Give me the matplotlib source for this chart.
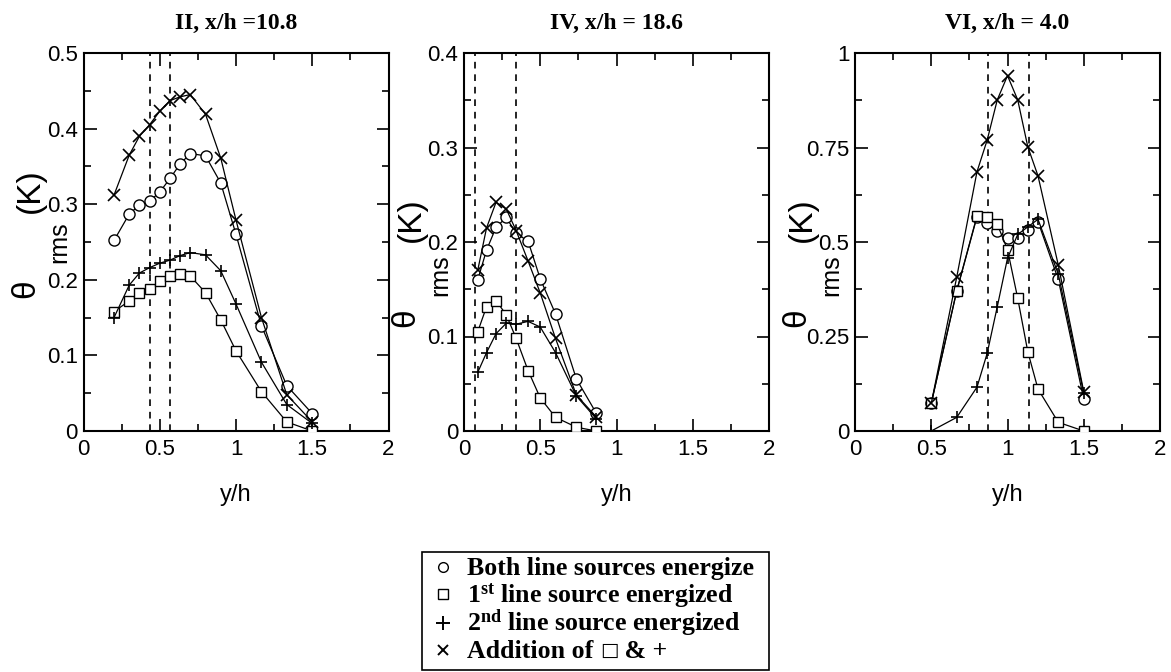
import matplotlib
matplotlib.use("Agg")
import matplotlib.pyplot as plt
from matplotlib.ticker import MultipleLocator, FixedLocator, FixedFormatter
from matplotlib.lines import Line2D
from matplotlib.patches import Rectangle

plt.rcParams['font.family'] = ['Liberation Sans', 'DejaVu Sans']
plt.rcParams['mathtext.fontset'] = 'custom'
plt.rcParams['mathtext.rm'] = 'Liberation Serif:bold'
plt.rcParams['mathtext.bf'] = 'Liberation Serif:bold'
plt.rcParams['mathtext.it'] = 'Liberation Serif:italic:bold'

# ---------------- data ----------------
titles = ["II, x/h =10.8", "IV, x/h = 18.6", "VI, x/h = 4.0"]

y1 = [0.2, 0.3, 0.367, 0.433, 0.5, 0.567, 0.633, 0.7, 0.8, 0.9, 1.0, 1.167, 1.333, 1.5]
both1 = [0.252, 0.287, 0.299, 0.304, 0.316, 0.334, 0.353, 0.367, 0.364, 0.328, 0.26, 0.139, 0.06, 0.023]
first1 = [0.158, 0.172, 0.183, 0.188, 0.198, 0.205, 0.208, 0.205, 0.183, 0.147, 0.106, 0.052, 0.012, 0.0]
second1 = [0.15, 0.193, 0.209, 0.216, 0.222, 0.226, 0.232, 0.236, 0.233, 0.212, 0.168, 0.091, 0.035, 0.01]
add1 = [0.312, 0.365, 0.39, 0.405, 0.423, 0.437, 0.442, 0.445, 0.419, 0.361, 0.279, 0.150, 0.048, 0.012]
dash1 = [0.436, 0.567]

y2 = [0.09, 0.148, 0.21, 0.277, 0.342, 0.42, 0.5, 0.6, 0.737, 0.867]
both2 = [0.16, 0.1915, 0.2155, 0.226, 0.209, 0.201, 0.161, 0.124, 0.055, 0.019]
first2 = [0.105, 0.1316, 0.138, 0.123, 0.098, 0.064, 0.035, 0.0145, 0.004, 0.0]
second2 = [0.062, 0.083, 0.103, 0.114, 0.113, 0.116, 0.110, 0.083, 0.037, 0.013]
add2 = [0.170, 0.215, 0.242, 0.235, 0.212, 0.180, 0.146, 0.098, 0.038, 0.015]
dash2 = [0.072, 0.34]

y3 = [0.5, 0.667, 0.8, 0.867, 0.933, 1.0, 1.067, 1.133, 1.2, 1.333, 1.5]
both3 = [0.073, 0.37, 0.567, 0.551, 0.53, 0.51, 0.51, 0.532, 0.554, 0.401, 0.084]
first3 = [0.073, 0.371, 0.569, 0.565, 0.547, 0.48, 0.351, 0.21, 0.111, 0.023, 0.0]
second3 = [0.0, 0.036, 0.116, 0.206, 0.329, 0.457, 0.52, 0.54, 0.56, 0.415, 0.10]
add3 = [0.073, 0.407, 0.686, 0.77, 0.876, 0.94, 0.876, 0.752, 0.675, 0.439, 0.104]
dash3 = [0.869, 1.139]

ymax = [0.5, 0.4, 1.0]
ytick_major = [[0, 0.1, 0.2, 0.3, 0.4, 0.5], [0, 0.1, 0.2, 0.3, 0.4], [0, 0.25, 0.5, 0.75, 1.0]]
ytick_labels = [["0", "0.1", "0.2", "0.3", "0.4", "0.5"],
                ["0", "0.1", "0.2", "0.3", "0.4"],
                ["0", "0.25", "0.5", "0.75", "1"]]
ytick_minor = [0.05, 0.05, 0.125]
xtick_major = [0, 0.5, 1, 1.5, 2]
xtick_labels = ["0", "0.5", "1", "1.5", "2"]

legend_labels = ["Both line sources energize",
                 r"1$^{\rm st}$ line source energized",
                 r"2$^{\rm nd}$ line source energized",
                 "Addition of "]
legend_tail = ["\u25a1", " & +"]

panels = [
    (y1, both1, first1, second1, add1, dash1),
    (y2, both2, first2, second2, add2, dash2),
    (y3, both3, first3, second3, add3, dash3),
]

# ---------------- figure ----------------
W, H = 1171, 672
fig = plt.figure(figsize=(W / 100, H / 100), dpi=100)
lefts = [83.5, 464, 855]
ax_w = 305
ax_top, ax_bot = 53, 431
# vertical centre (px) of the y-label pieces: theta, rms, (K)
ylab_y = [(289, 242, 191), (318, 275, 220), (318, 275, 220)]


def fx(px):
    return px / W


def fy(py):
    return 1 - py / H


for i, (yy, b, f, s, a, d) in enumerate(panels):
    ax = fig.add_axes([lefts[i] / W, 1 - ax_bot / H, ax_w / W, (ax_bot - ax_top) / H])
    for xv in d:
        ax.axvline(xv, color='black', lw=1.2, ls=(0, (4, 3.5)))
    ax.plot(yy, b, color='black', lw=0.9, marker='o', ms=8, mfc='white', mec='black', mew=1.0, zorder=3)
    ax.plot(yy, f, color='black', lw=0.9, marker='s', ms=7.5, mfc='white', mec='black', mew=1.0, zorder=3)
    ax.plot(yy, s, color='black', lw=0.9, marker='+', ms=9, mec='black', mew=1.2, zorder=4)
    ax.plot(yy, a, color='black', lw=0.9, marker='x', ms=8, mec='black', mew=1.2, zorder=4)
    ax.set_xlim(0, 2)
    ax.set_ylim(0, ymax[i])
    ax.xaxis.set_major_locator(FixedLocator(xtick_major))
    ax.xaxis.set_major_formatter(FixedFormatter(xtick_labels))
    ax.xaxis.set_minor_locator(MultipleLocator(0.25))
    ax.yaxis.set_major_locator(FixedLocator(ytick_major[i]))
    ax.yaxis.set_major_formatter(FixedFormatter(ytick_labels[i]))
    ax.yaxis.set_minor_locator(MultipleLocator(ytick_minor[i]))
    ax.tick_params(which='both', direction='in', top=True, right=True, width=1.2, color='black')
    ax.tick_params(which='major', length=9)
    ax.tick_params(which='minor', length=5)
    ax.tick_params(axis='x', which='major', labelsize=16, pad=6)
    ax.tick_params(axis='y', which='major', labelsize=16, pad=4)
    for sp in ax.spines.values():
        sp.set_linewidth(1.5)
    ax.set_title(titles[i], fontfamily='Liberation Serif', fontweight='bold', fontsize=17, pad=17)
    ax.set_xlabel("y/h", fontsize=17, labelpad=17)
    # y label: theta, subscript rms, (K)
    L = lefts[i]
    ty, ry, ky = ylab_y[i]
    fig.text(fx(L - 58), fy(ty), "\u03b8", rotation=90, ha='center', va='center',
             fontsize=24, family='Liberation Sans')
    fig.text(fx(L - 24), fy(ry), "rms", rotation=90, ha='center', va='center',
             fontsize=18, family='Liberation Sans')
    fig.text(fx(L - 53), fy(ky), "(K)", rotation=90, ha='center', va='center',
             fontsize=24, family='Liberation Sans')

# ---------------- legend (drawn as a box with markers and texts) ----------------
box_l, box_r, box_t, box_b = 422, 769, 552, 670
fig.add_artist(Rectangle((fx(box_l), fy(box_b)), (box_r - box_l) / W, (box_b - box_t) / H,
                         transform=fig.transFigure, fill=False, ec='black', lw=1.2))
baselines = [575, 602, 631, 658]
marker_specs = [
    dict(marker='o', ms=7, mfc='white', mec='black', mew=1.0),
    dict(marker='s', ms=7, mfc='white', mec='black', mew=1.0),
    dict(marker='+', ms=10, mec='black', mew=1.4),
    dict(marker='x', ms=7.5, mec='black', mew=1.4),
]
lfont = dict(family='Liberation Serif', weight='bold', size=18.6)
renderer = fig.canvas.get_renderer()
for k, lab in enumerate(legend_labels):
    bl = baselines[k]
    fig.add_artist(Line2D([fx(443)], [fy(bl - 8)], transform=fig.transFigure, ls='none',
                          **marker_specs[k]))
    t = fig.text(fx(467), fy(bl), lab, ha='left', va='baseline', **lfont)
    if k == 3:
        ext = t.get_window_extent(renderer)
        t2 = fig.text(ext.x1 / W, fy(bl - 2), legend_tail[0], ha='left', va='baseline',
                      family='DejaVu Sans', fontsize=14)
        ext2 = t2.get_window_extent(renderer)
        fig.text(ext2.x1 / W, fy(bl), legend_tail[1], ha='left', va='baseline', **lfont)

fig.savefig("out.png", dpi=100)
